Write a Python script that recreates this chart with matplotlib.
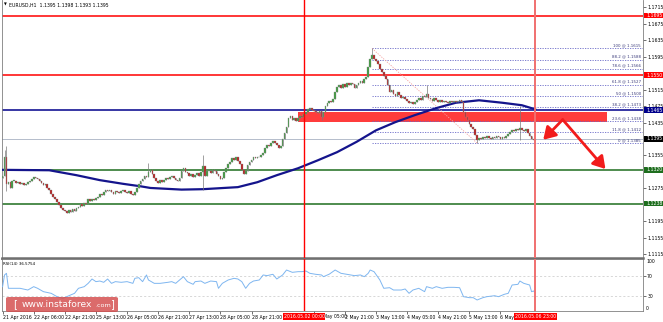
"""EURUSD H1 chart with fib retracement, MA and RSI panel (MT4 style)."""
import matplotlib
matplotlib.use("Agg")
import matplotlib.pyplot as plt
from matplotlib.patches import FancyBboxPatch, Rectangle

# ---- price data (hourly closes, bar 0 = 21 Apr) ----
close = [
    1.1305, 1.1350, 1.1285, 1.1290, 1.1275, 1.1292,
    1.1293, 1.1288, 1.1290, 1.1285, 1.1287, 1.1283, 1.1286, 1.1290,
    1.1294, 1.1298, 1.1302, 1.1300, 1.1297, 1.1293,
    1.1288, 1.1282, 1.1285, 1.1276, 1.1270,
    1.1262, 1.1255, 1.1250, 1.1243,
    1.1235, 1.1228, 1.1222,
    1.1220, 1.1216, 1.1222, 1.1218, 1.1225, 1.1220, 1.1228,
    1.1230, 1.1236, 1.1232, 1.1240,
    1.1238, 1.1248, 1.1245, 1.1250, 1.1246, 1.1252,
    1.1255, 1.1262, 1.1258, 1.1265, 1.1270, 1.1268, 1.1272,
    1.1265, 1.1262, 1.1268, 1.1265, 1.1263, 1.1268, 1.1270, 1.1266, 1.1264, 1.1268, 1.1262, 1.1258,
    1.1265, 1.1275, 1.1285, 1.1292,
    1.1298, 1.1305, 1.1302, 1.1315,
    1.1320, 1.1310, 1.1300,
    1.1292, 1.1288, 1.1295, 1.1290,
    1.1296, 1.1300, 1.1298, 1.1302, 1.1305, 1.1300, 1.1296, 1.1292,
    1.1300, 1.1318, 1.1325, 1.1315,
    1.1312, 1.1305, 1.1310, 1.1302, 1.1308, 1.1312, 1.1306, 1.1315,
    1.1330, 1.1305, 1.1318,
    1.1318, 1.1312, 1.1320, 1.1316, 1.1310, 1.1305, 1.1298,
    1.1300, 1.1315,
    1.1325, 1.1335, 1.1340, 1.1348, 1.1345, 1.1352, 1.1342, 1.1335,
    1.1320, 1.1310, 1.1318,
    1.1332, 1.1340,
    1.1345, 1.1350, 1.1348, 1.1352, 1.1350, 1.1355, 1.1362,
    1.1372, 1.1380, 1.1378, 1.1385,
    1.1390, 1.1385, 1.1380,
    1.1372, 1.1378,
    1.1395, 1.1410, 1.1425,
    1.1445, 1.1450, 1.1440,
    1.1445, 1.1438, 1.1446,
    1.1450, 1.1448, 1.1455,
    1.1460, 1.1468, 1.1470, 1.1465, 1.1462,
    1.1460, 1.1458, 1.1462, 1.1448, 1.1460,
    1.1475, 1.1482, 1.1488, 1.1485, 1.1492,
    1.1510, 1.1522,
    1.1525, 1.1518, 1.1528, 1.1522, 1.1530, 1.1525, 1.1532, 1.1528, 1.1520, 1.1526, 1.1530, 1.1535,
    1.1532, 1.1540, 1.1545,
    1.1570, 1.1590, 1.1598,
    1.1590, 1.1585, 1.1578,
    1.1565, 1.1558, 1.1548,
    1.1540, 1.1525, 1.1510, 1.1515,
    1.1505, 1.1500, 1.1508, 1.1502, 1.1495, 1.1498, 1.1492,
    1.1488, 1.1482, 1.1485, 1.1480, 1.1486, 1.1490,
    1.1495, 1.1490, 1.1500, 1.1498, 1.1505, 1.1495,
    1.1492, 1.1488, 1.1495, 1.1490, 1.1486, 1.1490, 1.1485, 1.1488,
    1.1486, 1.1483, 1.1487, 1.1485, 1.1488, 1.1484, 1.1487, 1.1490, 1.1486,
    1.1460, 1.1448,
    1.1440, 1.1432, 1.1425, 1.1420,
    1.1405, 1.1392, 1.1398,
    1.1395, 1.1400, 1.1397, 1.1402, 1.1398, 1.1396, 1.1400, 1.1398, 1.1402, 1.1399, 1.1396, 1.1400, 1.1398, 1.1403,
    1.1408, 1.1412, 1.1418, 1.1415,
    1.1420, 1.1416, 1.1422, 1.1418,
    1.1415, 1.1420, 1.1410, 1.1402,
    1.1396, 1.1392, 1.1395,
]
first_open = 1.1300
spike_high = {1: 1.1368, 2: 1.1378, 75: 1.1336, 103: 1.1356, 190: 1.1615, 218: 1.1526, 266: 1.1476}
spike_low = {2: 1.1268, 103: 1.1270, 164: 1.1440, 244: 1.1385, 266: 1.1392}

# 100-period moving average
ma_bar = [0, 24, 38, 50, 62, 71, 76, 92, 103, 121, 131, 141, 152, 162, 172, 182, 192, 202, 212, 223, 233,
          245, 257, 267, 274]
ma_val = [1.1320, 1.1319, 1.1307, 1.1295, 1.1286, 1.1280, 1.1276, 1.1272, 1.1273, 1.1278, 1.1290, 1.1307,
          1.1324, 1.1343, 1.1363, 1.1388, 1.1416, 1.1436, 1.1453, 1.1470, 1.1483, 1.1489, 1.1483, 1.1477,
          1.1467]

# RSI(14)
rsi_bar = [0, 1, 2, 3, 4, 9, 13, 16, 18, 21, 25, 28, 31, 33, 35, 37, 39, 42, 44, 46, 48, 50, 52, 54, 56, 58,
           61, 64, 67, 68, 70, 72, 74, 75, 78, 81, 85, 87, 89, 92, 93, 95, 98, 99, 102, 104, 107, 110, 111,
           113, 116, 119, 121, 123, 125, 127, 129, 132, 134, 136, 139, 141, 144, 146, 149, 152, 154, 156,
           158, 161, 164, 165, 168, 171, 174, 177, 181, 184, 186, 188, 189, 191, 194, 196, 199, 201, 205,
           207, 209, 211, 214, 217, 218, 221, 223, 226, 229, 232, 235, 237, 240, 242, 244, 247, 249, 253,
           255, 258, 260, 262, 265, 266, 268, 271, 272, 273, 274]
rsi_val = [48.8, 71.4, 74.6, 45.6, 45.6, 45.6, 42.3, 48.8, 45.6, 39.1, 35.9, 29.4, 26.2, 29.4, 32.7, 35.9,
           45.6, 48.8, 55.2, 63.6, 58.5, 59.7, 57.2, 63.6, 55.2, 58.5, 57.2, 58.5, 55.2, 64.9, 66.2, 58.5,
           71.4, 61.7, 55.2, 55.2, 57.2, 58.5, 55.2, 64.9, 68.1, 58.5, 53.3, 58.5, 59.7, 55.2, 59.7, 58.5,
           45.6, 55.2, 61.7, 64.9, 63.6, 58.5, 45.6, 55.2, 59.7, 61.7, 71.4, 70.1, 72.7, 63.6, 71.4, 81.0,
           76.5, 77.8, 77.8, 79.1, 74.6, 72.7, 71.4, 68.1, 73.0, 81.0, 74.6, 72.7, 70.1, 71.4, 68.1, 74.6,
           81.0, 77.8, 61.7, 45.6, 46.8, 42.3, 42.3, 44.3, 35.9, 42.3, 45.6, 39.1, 48.8, 45.6, 48.8, 45.6,
           47.5, 47.5, 46.8, 29.4, 27.5, 27.5, 23.0, 27.5, 29.4, 31.3, 29.4, 34.0, 35.9, 52.0, 53.3, 59.7,
           55.2, 52.0, 39.1, 40.4, 36.6]

# horizontal levels and their label colours
levels = [1.1695, 1.1550, 1.1465, 1.1320, 1.1238]
level_colors = ["#ff0000", "#ff0000", "#00008b", "#1e6e1e", "#1e6e1e"]
bid = 1.1395

# fibonacci retracement (100 at the high, 0 at the low)
fib_pct = ["100", "88.2", "78.6", "61.8", "50", "38.2", "23.6", "11.8", "0"]
fib_val = [1.1615, 1.1588, 1.1566, 1.1527, 1.1500, 1.1473, 1.1438, 1.1412, 1.1385]
fib_start, fib_end = 190, 244

zone_lo, zone_hi = 1.1436, 1.1460
zone_x0, zone_x1 = 152, 311

# price scale labels (those hidden under coloured level boxes are left out)
price_ticks = [1.1715, 1.1675, 1.1635, 1.1595, 1.1515, 1.1475, 1.1435, 1.1355,
               1.1275, 1.1195, 1.1155, 1.1115]
time_ticks = [0, 16, 32, 48, 64, 80, 96, 112, 128, 160, 176, 192, 208, 224, 240, 256]
time_labels = ["21 Apr 2016", "22 Apr 06:00", "22 Apr 21:00", "25 Apr 13:00", "26 Apr 05:00",
               "26 Apr 21:00", "27 Apr 13:00", "28 Apr 05:00", "28 Apr 21:00",
               "", "2 May 21:00", "3 May 13:00", "4 May 05:00", "4 May 21:00",
               "5 May 13:00", "6 May"]
# tail of the 2 May 05:00 label that shows past the red date box
partial_label, partial_bar = "May 05:00", 165
vlines = [155, 274]
vline_labels = ["2016.05.02 00:00", "2016.05.06 23:00"]
vline_colors = ["#ff0000", "#f07070"]

# forecast arrows
arrow_peak = (288, 1.1442)
arrow_left = (278, 1.1393)
arrow_right = (310, 1.1322)

FS = 3.3
W, H = 663, 322
fig = plt.figure(figsize=(W / 100, H / 100), dpi=100, facecolor="white")
ax = fig.add_axes([2 / W, 1 - 258 / H, 641 / W, 258 / H])
axr = fig.add_axes([2 / W, 1 - 311 / H, 641 / W, 52 / H], sharex=ax)

ax.set_xlim(-0.3, 329.3)
ax.set_ylim(1.11058, 1.17327)
axr.set_ylim(1.7, 102.3)

for a in (ax, axr):
    a.set_facecolor("white")
    for s in a.spines.values():
        s.set_color("#808080")
        s.set_linewidth(0.6)
    a.spines["top"].set_visible(False)
ax.spines["bottom"].set_color("#707070")
ax.spines["bottom"].set_linewidth(1.8)
axr.spines["top"].set_visible(True)
axr.spines["top"].set_color("#707070")
axr.spines["top"].set_linewidth(1.2)

# price axis
ax.yaxis.tick_right()
ax.set_yticks(price_ticks)
ax.set_yticklabels([f"{v:.4f}" for v in price_ticks])
ax.tick_params(axis="y", labelsize=FS, length=2, width=0.4, pad=1, colors="black")
ax.tick_params(axis="x", bottom=False, labelbottom=False)

# zone, levels, bid line
ax.add_patch(Rectangle((zone_x0, zone_lo), zone_x1 - zone_x0, zone_hi - zone_lo,
                       facecolor="#ff3c3c", edgecolor="none", zorder=1))
ax.axhline(bid, color="#b4bccb", lw=0.7, zorder=1.2)
for v, c in zip(levels, level_colors):
    ax.axhline(v, color=c, lw=1.1, zorder=2)

# fib lines
for p, v in zip(fib_pct, fib_val):
    ax.hlines(v, fib_start, 329.3, colors="#6a6ac8", lw=0.6, linestyles=(0, (1.5, 1.5)), zorder=2)
    ax.text(0.997, v + 0.0002, f"{p} @ {v:.4f}", transform=ax.get_yaxis_transform(),
            ha="right", va="bottom", fontsize=FS - 0.4, color="#3a3a7a", zorder=3)
ax.plot([fib_start, fib_end], [fib_val[0], fib_val[-1]], color="#f4a0a0", lw=0.6,
        ls=(0, (1.5, 1.5)), zorder=2)

# moving average
ax.plot(ma_bar, ma_val, color="#14148c", lw=1.6, zorder=3, solid_capstyle="round",
        solid_joinstyle="round")

# candles
n = len(close)
xs = list(range(n))
opens = [first_open] + close[:-1]
highs = [spike_high.get(i, max(o, c)) for i, (o, c) in enumerate(zip(opens, close))]
lows = [spike_low.get(i, min(o, c)) for i, (o, c) in enumerate(zip(opens, close))]
ax.vlines(xs, lows, highs, colors="#7a7a7a", lw=0.5, zorder=4)
body_lo = [min(o, c) for o, c in zip(opens, close)]
body_h = [max(abs(c - o), 0.00022) for o, c in zip(opens, close)]
body_col = ["#3f9a3f" if c >= o else "#b81e1e" for o, c in zip(opens, close)]
ax.bar(xs, body_h, bottom=body_lo, width=0.85, color=body_col, edgecolor="#8a8a8a",
       linewidth=0.25, zorder=5)

# vertical lines
for a in (ax, axr):
    for b, c in zip(vlines, vline_colors):
        a.axvline(b, color=c, lw=1.0 if b == vlines[0] else 1.4, zorder=6)

# forecast arrows
for tip in (arrow_left, arrow_right):
    ax.annotate("", xy=tip, xytext=arrow_peak, zorder=7,
                arrowprops=dict(arrowstyle="-|>,head_length=0.9,head_width=0.55", color="#f21c1c",
                                lw=2.0, mutation_scale=8, shrinkA=0, shrinkB=0))

# right-axis coloured labels
ytr = ax.get_yaxis_transform()
box_h = 0.00135
for v, c in list(zip(levels, level_colors)) + [(bid, "black")]:
    ax.add_patch(Rectangle((1.0015, v - box_h / 2), 0.0295, box_h, transform=ytr,
                           facecolor=c, edgecolor="none", clip_on=False, zorder=8))
    ax.text(1.0047, v, f"{v:.4f}", transform=ytr, ha="left", va="center", fontsize=FS,
            color="white", zorder=9, clip_on=False)

# RSI panel
axr.plot(rsi_bar, rsi_val, color="#7eb6f0", lw=0.7, zorder=3)
for lv in (70, 30):
    axr.axhline(lv, color="#c8c8c8", lw=0.5, ls=(0, (3, 3)), zorder=1)
axr.yaxis.tick_right()
axr.set_yticks([70, 30])
axr.set_yticklabels(["70", "30"])
axr.tick_params(axis="y", labelsize=FS, length=2, width=0.4, pad=1)
rtr = axr.get_yaxis_transform()
axr.text(1.0047, 96.5, "100", transform=rtr, ha="left", va="center", fontsize=FS)
axr.text(1.0047, 7, "0", transform=rtr, ha="left", va="center", fontsize=FS)
axr.text(0.002, 92, "RSI(14) 36.5754", transform=rtr, ha="left", va="center", fontsize=FS - 0.4)

axr.set_xticks(time_ticks)
axr.set_xticklabels(time_labels, ha="left")
axr.tick_params(axis="x", labelsize=FS, length=2, width=0.4, pad=1, colors="black")
xtr = axr.get_xaxis_transform()
axr.text(partial_bar, -0.06, partial_label, transform=xtr, ha="left", va="top", fontsize=FS,
         clip_on=False)
for b, lab in zip(vlines, vline_labels):
    axr.text(b, -0.06, lab, transform=xtr, ha="center", va="top", fontsize=FS, color="white",
             zorder=9, clip_on=False,
             bbox=dict(boxstyle="square,pad=0.15", facecolor="#ff0000", edgecolor="none"))

# header
fig.text(4 / W, 1 - 5 / H, "\u25bc", fontsize=2.6, ha="left", va="center")
fig.text(9 / W, 1 - 5 / H, "EURUSD,H1  1.1395 1.1398 1.1393 1.1395", fontsize=FS,
         ha="left", va="center")

# watermark
fig.add_artist(FancyBboxPatch((6 / W, 1 - 312 / H), 112 / W, 15 / H,
                              boxstyle="round,pad=0,rounding_size=0.004",
                              transform=fig.transFigure, facecolor="#d44a4a", alpha=0.82,
                              edgecolor="none", zorder=10))
wy = 1 - 304.5 / H
fig.text(13 / W, wy, "[", fontsize=7, color="white", ha="left", va="center", zorder=11)
fig.text(22 / W, wy, "www.instaforex", fontsize=6.6, color="white", ha="left", va="center", zorder=11)
fig.text(95 / W, wy - 0.004, ".com", fontsize=4.6, color="white", ha="left", va="center", zorder=11)
fig.text(110 / W, wy, "]", fontsize=7, color="white", ha="left", va="center", zorder=11)

fig.savefig("out.png", dpi=100, facecolor="white")
